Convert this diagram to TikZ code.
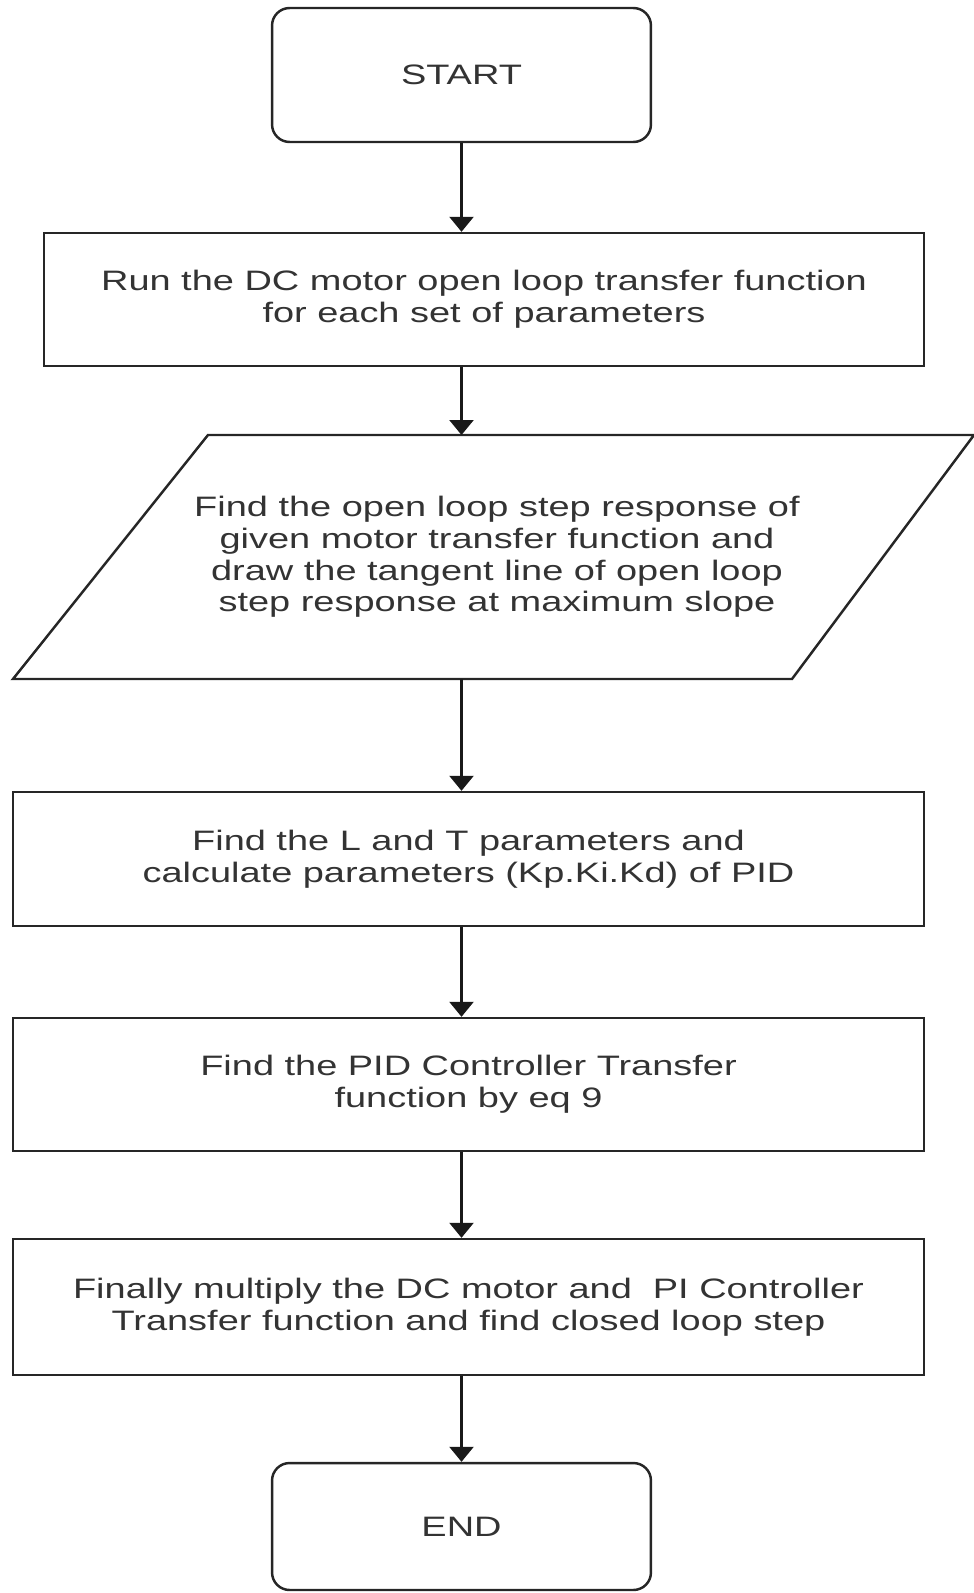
\documentclass[tikz,border=0pt]{standalone}
\usepackage{fontspec}
\setmainfont{Liberation Sans}[FakeStretch=1.35]
\usetikzlibrary{arrows.meta, positioning}

\begin{document}
\begin{tikzpicture}[
  x=0.02cm, y=-0.02cm,
  every node/.style={text=black!80, font=\fontsize{16}{18}\selectfont, align=center},
  outline/.style={draw=black!85, line width=1.4pt},
  terminal/.style={outline, rounded corners=10pt, minimum width=7.58cm},
  procbox/.style={outline},
  flow/.style={-{Triangle[length=0.3cm, width=0.48cm]}, line width=1.4pt, draw=black!90}
]
  \useasboundingbox (0,0) rectangle (974,1593);

  % Terminals and steps
  \node[terminal, minimum height=2.68cm] (start) at (461.5, 75) {START};
  \node[procbox, minimum width=17.6cm, minimum height=2.66cm] (run) at (484, 299.5)
    {Run the DC motor open loop transfer function\\for each set of parameters};

  % input/output step, slanted box
  \draw[outline] (208,435) -- (974,435) -- (792,679) -- (13,679) -- cycle;
  \coordinate (resp top) at (461.5, 435);
  \coordinate (resp bottom) at (461.5, 679);
  \node (resp) at (497, 557)
    {Find the open loop step response of\\given motor transfer function and\\draw the tangent line of open loop\\step response at maximum slope};

  \node[procbox, minimum width=18.22cm, minimum height=2.68cm] (lt) at (468.5, 859)
    {Find the L and T parameters and\\calculate parameters (Kp.Ki.Kd) of PID};
  \node[procbox, minimum width=18.22cm, minimum height=2.66cm] (pid) at (468.5, 1084.5)
    {Find the PID Controller Transfer\\function by eq 9};
  \node[procbox, minimum width=18.22cm, minimum height=2.72cm] (mult) at (468.5, 1307)
    {Finally multiply the DC motor and \ PI Controller\\Transfer function and find closed loop step};
  \node[terminal, minimum height=2.54cm] (end) at (461.5, 1526.5) {END};

  % Arrows
  \draw[flow] (start.south) -- (start |- run.north);
  \draw[flow] (start |- run.south) -- (resp top);
  \draw[flow] (resp bottom) -- (start |- lt.north);
  \draw[flow] (start |- lt.south) -- (start |- pid.north);
  \draw[flow] (start |- pid.south) -- (start |- mult.north);
  \draw[flow] (start |- mult.south) -- (end.north);
\end{tikzpicture}
\end{document}
